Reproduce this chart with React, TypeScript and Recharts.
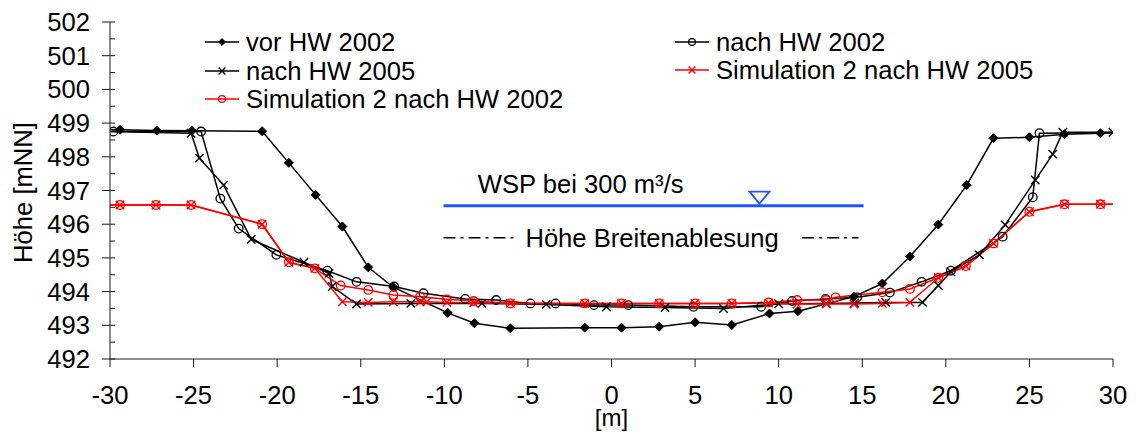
import React from "react";
import { LineChart, Line, XAxis, YAxis, ReferenceLine, ReferenceDot, Legend } from "recharts";

// station [m] / height [mNN]
const vorX = [-30.3, -29.4, -27.2, -25.1, -20.9, -19.3, -17.7, -16.1, -14.55, -13.05, -9.8, -8.2, -6.05, -1.6, 0.6, 2.85, 5.0, 7.2, 9.45, 11.15, 14.5, 16.2, 17.85, 19.55, 21.25, 22.85, 25.0, 27.1, 29.25, 30.3];
const vorY = [498.8, 498.8, 498.78, 498.77, 498.76, 497.82, 496.87, 495.93, 494.72, 494.13, 493.37, 493.06, 492.91, 492.93, 492.93, 492.96, 493.09, 493.01, 493.35, 493.42, 493.85, 494.24, 495.04, 495.99, 497.16, 498.55, 498.58, 498.67, 498.7, 498.72];

const nach02X = [-30.3, -29.8, -24.55, -23.4, -22.3, -20.05, -17.0, -15.25, -13.0, -11.25, -8.75, -6.9, -4.85, -3.35, -1.05, 1.0, 4.9, 8.95, 10.8, 12.8, 14.7, 16.65, 18.55, 20.3, 23.4, 25.2, 25.6, 30.3];
const nach02Y = [498.75, 498.75, 498.75, 496.76, 495.87, 495.09, 494.62, 494.29, 494.15, 493.95, 493.78, 493.75, 493.65, 493.65, 493.6, 493.6, 493.55, 493.55, 493.72, 493.78, 493.83, 493.97, 494.29, 494.62, 495.63, 496.8, 498.7, 498.72];

const nach05X = [-30.3, -25.15, -24.65, -23.2, -21.55, -18.4, -16.9, -16.7, -15.25, -12.0, -7.75, -3.9, -0.3, 3.2, 6.7, 10.0, 12.85, 14.55, 16.4, 18.6, 19.55, 20.3, 22.0, 23.55, 25.35, 26.4, 27.0, 30.0];
const nach05Y = [498.75, 498.7, 497.96, 497.16, 495.55, 494.87, 494.54, 494.15, 493.63, 493.65, 493.65, 493.62, 493.55, 493.53, 493.5, 493.64, 493.65, 493.66, 493.68, 493.68, 494.18, 494.59, 495.09, 495.98, 497.31, 498.08, 498.73, 498.73];

const sim05X = [-30.3, -29.4, -27.25, -25.15, -20.9, -19.3, -17.75, -16.1, -14.55, -13.05, -11.45, -11.05, -9.85, -8.25, -6.05, -1.6, 0.6, 2.85, 5.0, 7.2, 9.4, 11.1, 12.85, 14.5, 16.2, 17.85, 19.55, 21.2, 22.85, 25.0, 27.1, 29.25, 30.3];
const sim05Y = [496.57, 496.57, 496.57, 496.57, 496.0, 494.87, 494.69, 493.7, 493.68, 493.7, 493.7, 493.7, 493.68, 493.67, 493.65, 493.65, 493.65, 493.65, 493.65, 493.65, 493.66, 493.63, 493.63, 493.63, 493.65, 493.68, 494.41, 494.76, 495.43, 496.37, 496.59, 496.59, 496.59];

const sim02X = [-30.3, -29.4, -27.25, -25.15, -20.9, -19.3, -17.75, -16.2, -14.55, -13.05, -11.45, -9.85, -8.25, -6.05, -1.6, 0.6, 2.85, 5.0, 7.2, 9.4, 11.1, 12.85, 13.4, 16.2, 17.85, 19.55, 21.2, 22.85, 25.0, 27.1, 29.25, 30.3];
const sim02Y = [496.57, 496.57, 496.57, 496.57, 496.0, 494.87, 494.69, 494.18, 494.05, 493.9, 493.85, 493.77, 493.72, 493.65, 493.65, 493.65, 493.65, 493.65, 493.65, 493.68, 493.75, 493.75, 493.83, 493.98, 494.08, 494.41, 494.76, 495.43, 496.37, 496.59, 496.59, 496.59];

const xTicks = [-30, -25, -20, -15, -10, -5, 0, 5, 10, 15, 20, 25, 30];
const yTicks = [492, 492.5, 493, 493.5, 494, 494.5, 495, 495.5, 496, 496.5, 497, 497.5, 498, 498.5, 499, 499.5, 500, 500.5, 501, 501.5, 502];

// annotations
const wspLevel = 496.55;
const wspFrom = -10.05;
const wspTo = 15.08;
const wspMarkX = 8.85;
const wspLabelX = -8.0;
const breiteLevel = 495.6;
const breiteLeft = [-10.05, -5.75];
const breiteRight = [11.4, 14.78];
const breiteLabelX = -5.15;

const FONT = '"Liberation Sans", Arial, Helvetica, sans-serif';
const FS = 25.6;
const AXIS = "#1a1a1a";
const BLUE = "#1f55ff";

type Kind = "diamond" | "circle" | "cross";

const pts = (xs: number[], ys: number[]) => xs.map((x, i) => ({ x, y: ys[i] }));

const series: { name: string; color: string; kind: Kind; data: { x: number; y: number }[] }[] = [
  { name: "vor HW 2002", color: "#000", kind: "diamond", data: pts(vorX, vorY) },
  { name: "nach HW 2002", color: "#000", kind: "circle", data: pts(nach02X, nach02Y) },
  { name: "nach HW 2005", color: "#000", kind: "cross", data: pts(nach05X, nach05Y) },
  { name: "Simulation 2 nach HW 2005", color: "#ff0000", kind: "cross", data: pts(sim05X, sim05Y) },
  { name: "Simulation 2 nach HW 2002", color: "#ff0000", kind: "circle", data: pts(sim02X, sim02Y) },
];

// legend slot per series (line start x, row centre y), in chart coords
const legendSlots = [
  { x: 197, y: 34 },
  { x: 667, y: 34 },
  { x: 197, y: 63 },
  { x: 667, y: 62 },
  { x: 197, y: 91 },
];

function marker(kind: Kind, cx: number, cy: number, color: string, s: number) {
  if (kind === "diamond")
    return <path d={`M${cx},${cy - s}L${cx + s},${cy}L${cx},${cy + s}L${cx - s},${cy}Z`} fill={color} stroke={color} strokeWidth={1} />;
  if (kind === "circle") return <circle cx={cx} cy={cy} r={s} fill="none" stroke={color} strokeWidth={1.3} />;
  return (
    <path
      d={`M${cx - s},${cy - s}L${cx + s},${cy + s}M${cx - s},${cy + s}L${cx + s},${cy - s}`}
      stroke={color}
      strokeWidth={1.4}
      fill="none"
    />
  );
}

const makeDot = (kind: Kind, color: string) => (props: any) => {
  const { cx, cy, index, payload } = props;
  const key = `${kind}-${color}-${index}`;
  if (cx == null || cy == null || !payload || payload.x < -30 || payload.x > 30.1) return <g key={key} />;
  const size = kind === "diamond" ? 4.5 : kind === "circle" ? 4.3 : 4.2;
  return <g key={key}>{marker(kind, cx, cy, color, size)}</g>;
};

const XTick = (props: any) => {
  const { x, y, payload } = props;
  return (
    <g>
      <line x1={x} x2={x} y1={y} y2={y + 8} stroke={AXIS} strokeWidth={1} />
      <text x={x} y={y + 45} textAnchor="middle" fontFamily={FONT} fontSize={FS} fill="#000">
        {String(payload.value)}
      </text>
    </g>
  );
};

const YTick = (props: any) => {
  const { x, y, payload } = props;
  const v = payload.value as number;
  const major = Number.isInteger(v);
  return (
    <g>
      <line x1={major ? x - 8 : x} x2={x + 5} y1={y} y2={y} stroke={AXIS} strokeWidth={1} />
      {major && (
        <text x={x - 20} y={y + 9} textAnchor="end" fontFamily={FONT} fontSize={FS} fill="#000">
          {v}
        </text>
      )}
    </g>
  );
};

const renderLegend = () => (
  <div style={{ position: "relative", width: 1128, height: 110, fontFamily: FONT }}>
    {series.map((s, i) => {
      const slot = legendSlots[i];
      return (
        <div
          key={s.name}
          style={{ position: "absolute", left: slot.x, top: slot.y - 15, height: 30, display: "flex", alignItems: "center", whiteSpace: "nowrap" }}
        >
          <svg width={34} height={14} style={{ display: "block" }}>
            <line x1={0} x2={34} y1={7} y2={7} stroke={s.color} strokeWidth={1.5} />
            {marker(s.kind, 17, 7, s.color, 3.4)}
          </svg>
          <span style={{ marginLeft: 7, fontSize: FS, lineHeight: "30px", color: "#000" }}>{s.name}</span>
        </div>
      );
    })}
  </div>
);

export default function App() {
  return (
    <div style={{ width: 1128, height: 424, background: "#fff" }}>
      <LineChart width={1128} height={424} margin={{ top: 14, right: 23, bottom: 0, left: 0 }}>
        <XAxis
          type="number"
          dataKey="x"
          domain={[-30, 30]}
          ticks={xTicks}
          interval={0}
          allowDataOverflow
          height={73}
          tickSize={0}
          tickMargin={0}
          tickLine={false}
          tick={<XTick />}
          axisLine={{ stroke: AXIS, strokeWidth: 1 }}
          label={(p: any) => {
            const vb = p.viewBox || { x: 102, y: 351, width: 1003, height: 73 };
            return (
              <text x={vb.x + vb.width / 2} y={vb.y + 67} textAnchor="middle" fontFamily={FONT} fontSize={24} fill="#000">
                [m]
              </text>
            );
          }}
        />
        <YAxis
          type="number"
          dataKey="y"
          domain={[492, 502]}
          ticks={yTicks}
          interval={0}
          allowDataOverflow
          width={102}
          tickSize={0}
          tickMargin={0}
          tickLine={false}
          tick={<YTick />}
          axisLine={{ stroke: AXIS, strokeWidth: 1 }}
          label={(p: any) => {
            const vb = p.viewBox || { x: 0, y: 14, width: 102, height: 337 };
            const cy = vb.y + vb.height / 2 + 2;
            return (
              <text x={24} y={cy} transform={`rotate(-90 24 ${cy})`} textAnchor="middle" fontFamily={FONT} fontSize={FS} fill="#000">
                Höhe [mNN]
              </text>
            );
          }}
        />
        <Legend verticalAlign="middle" align="center" layout="horizontal" content={renderLegend} wrapperStyle={{ left: 0, top: 0, width: 1128, height: 110 }} />

        <ReferenceLine
          segment={[{ x: wspFrom, y: wspLevel }, { x: wspTo, y: wspLevel }]}
          stroke={BLUE}
          strokeWidth={3}
        />
        <ReferenceDot
          x={wspMarkX}
          y={wspLevel}
          shape={(p: any) => (
            <path
              d={`M${p.cx - 10},${p.cy - 14}L${p.cx + 10},${p.cy - 14}L${p.cx},${p.cy - 2}Z`}
              fill="none"
              stroke={BLUE}
              strokeWidth={1.8}
            />
          )}
        />
        <ReferenceDot
          x={wspLabelX}
          y={wspLevel}
          shape={(p: any) => (
            <text x={p.cx} y={p.cy - 13} fontFamily={FONT} fontSize={FS} fill="#000">
              WSP bei 300 m³/s
            </text>
          )}
        />
        <ReferenceLine
          segment={[{ x: breiteLeft[0], y: breiteLevel }, { x: breiteLeft[1], y: breiteLevel }]}
          stroke="#000"
          strokeWidth={1.6}
          strokeDasharray="12 5 3 5"
        />
        <ReferenceLine
          segment={[{ x: breiteRight[0], y: breiteLevel }, { x: breiteRight[1], y: breiteLevel }]}
          stroke="#000"
          strokeWidth={1.6}
          strokeDasharray="12 5 3 5"
        />
        <ReferenceDot
          x={breiteLabelX}
          y={breiteLevel}
          shape={(p: any) => (
            <text x={p.cx} y={p.cy + 9} fontFamily={FONT} fontSize={FS} fill="#000">
              Höhe Breitenablesung
            </text>
          )}
        />

        {series.map((s) => (
          <Line
            key={s.name}
            name={s.name}
            data={s.data}
            dataKey="y"
            type="linear"
            stroke={s.color}
            strokeWidth={1.5}
            dot={makeDot(s.kind, s.color)}
            activeDot={false}
            legendType="line"
            isAnimationActive={false}
          />
        ))}
      </LineChart>
    </div>
  );
}
